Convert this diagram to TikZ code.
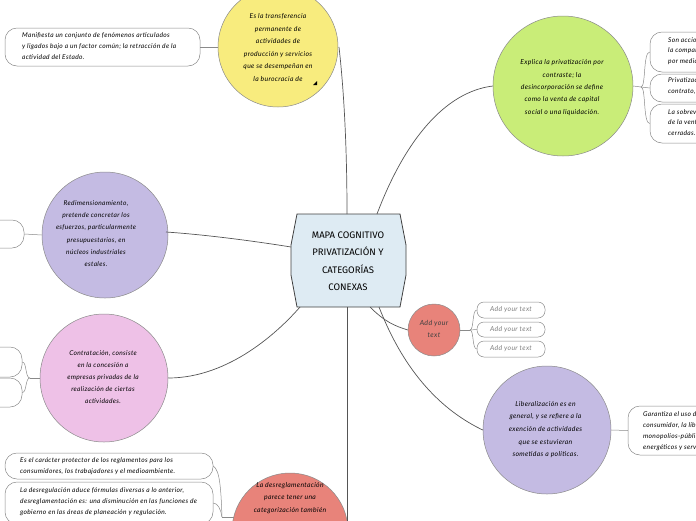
\documentclass[tikz,border=0pt]{standalone}
\usepackage{fontspec}
\setmainfont{Lato}
\newfontfamily\handfont[LetterSpace=5]{Lato}
\newfontfamily\hubfont{Fira Sans}
\definecolor{cyel}{HTML}{F8EC7E}
\definecolor{cgrn}{HTML}{C9ED78}
\definecolor{clav}{HTML}{C4BBE3}
\definecolor{cpnk}{HTML}{EEC1E7}
\definecolor{csal}{HTML}{E8837A}
\definecolor{chub}{HTML}{DEEBF3}
\definecolor{cline}{HTML}{555555}
\definecolor{cbord}{HTML}{8A8A8A}
\begin{document}
\begin{tikzpicture}[x=1pt,y=-1pt,
  conn/.style={draw=cline, line width=0.7pt},
  sconn/.style={draw=cbord, line width=0.5pt},
  bubble/.style={circle, draw=cbord, line width=0.5pt, inner sep=0pt},
  btxt/.style={align=center, inner sep=0pt, font=\handfont\fontsize{6.8}{12.4}\selectfont\itshape},
  tbox/.style={draw=cbord, line width=0.5pt, rounded corners=12pt, fill=white, inner sep=0pt},
  ltxt/.style={anchor=west, align=left, inner sep=0pt, font=\handfont\fontsize{6.6}{10.8}\selectfont\itshape}
]
\useasboundingbox (0,0) rectangle (696,520);

% hub
\draw[draw=black!75, line width=0.8pt, fill=chub]
  (297,214) -- (400,214) -- (406,245) -- (406,275) -- (400,307) -- (297,307) -- (291,275) -- (291,245) -- cycle;
\node[align=center, inner sep=0pt, font=\hubfont\fontsize{9.5}{17.5}\selectfont] (hub) at (348,261)
  {MAPA COGNITIVO\\PRIVATIZACIÓN Y\\CATEGORÍAS\\CONEXAS};
\coordinate (hT) at (347,214);
\coordinate (hTR) at (377,214);
\coordinate (hL) at (291,247);
\coordinate (hBL) at (300,307);
\coordinate (hB) at (347,307);
\coordinate (hBR1) at (370,307);
\coordinate (hBR2) at (379,307);

% yellow
\node[bubble, fill=cyel, minimum size=120pt] (Y) at (278,47) {};
\node[btxt, font=\handfont\fontsize{6.8}{12.6}\selectfont\itshape] (Yt) at (278,47.5)
  {Es la transferencia\\permanente de\\actividades de\\producción y servicios\\que se desempeñan en\\la burocracia de};
\fill[black] (313,85) -- (317,85) -- (317,81) -- cycle;
\node[tbox, minimum width=195pt, minimum height=38pt] (Yb) at (102.5,47) {};
\node[ltxt] (Ybt) at (22,46) {Manifiesta un conjunto de fenómenos articulados\\y ligados bajo a un factor común; la retracción de la\\actividad del Estado.};
\draw[sconn] (Yb.east) -- (Y.west);
\draw[conn] (339,47) .. controls (345,100) and (347,160) .. (hT);

% green
\node[bubble, fill=cgrn, minimum size=140pt] (G) at (563,86) {};
\node[btxt, font=\handfont\fontsize{6.8}{12.3}\selectfont\itshape] (Gt) at (562,87.5)
  {Explica la privatización por\\contraste; la\\desincorporación se define\\como la venta de capital\\social o una liquidación.};
\draw[conn] (hTR) .. controls (405,140) and (445,92) .. (G.west);
\node[tbox, minimum width=130pt, minimum height=40pt] (Gb1) at (715,52) {};
\node[tbox, minimum width=130pt, minimum height=28pt] (Gb2) at (715,88) {};
\node[tbox, minimum width=130pt, minimum height=39pt] (Gb3) at (715,123.5) {};
\node[ltxt] (Gb1t) at (668,51) {Son acciones de\\la compañía que\\por medio de la};
\node[ltxt] (Gb2t) at (668,86) {Privatización por\\contrato, en la};
\node[ltxt] (Gb3t) at (668,122.5) {La sobrevaluación\\de la venta de\\cerradas.};
\coordinate (Gj) at (641,87);
\draw[sconn] (G.east) -- (Gj);
\draw[sconn] (Gj) .. controls (646,87) and (643,52) .. (Gb1.west);
\draw[sconn] (Gj) -- (Gb2.west);
\draw[sconn] (Gj) .. controls (646,87) and (643,123.5) .. (Gb3.west);

% purple
\node[bubble, fill=clav, minimum size=126pt] (P) at (105,235) {};
\node[btxt, font=\handfont\fontsize{6.6}{12.2}\selectfont\itshape] (Pt) at (96,233.5)
  {Redimensionamiento,\\pretende concretar los\\esfuerzos, particularmente\\presupuestarios, en\\núcleos industriales\\estales.};
\node[tbox, minimum width=124pt, minimum height=28pt] (Pb) at (-38,234) {};
\draw[sconn] (Pb.east) -- (P.west);
\draw[conn] (166,232) .. controls (210,235) and (260,242) .. (hL);

% pink
\node[bubble, fill=cpnk, minimum size=128pt] (K) at (104,378) {};
\node[btxt, font=\handfont\fontsize{6.6}{12}\selectfont\itshape] (Kt) at (103,377)
  {Contratación, consiste\\en la concesión a\\empresas privadas de la\\realización de ciertas\\actividades.};
\node[tbox, minimum width=122pt, minimum height=30pt] (Kb1) at (-39,362) {};
\node[tbox, minimum width=122pt, minimum height=29pt] (Kb2) at (-39,392.5) {};
\coordinate (Kj) at (30,378);
\draw[sconn] (K.west) -- (Kj);
\draw[sconn] (Kj) .. controls (25,378) and (27,362) .. (Kb1.east);
\draw[sconn] (Kj) .. controls (25,378) and (27,392.5) .. (Kb2.east);
\draw[conn] (K.east) .. controls (230,378) and (280,330) .. (hBL);

% small salmon
\node[bubble, fill=csal, minimum size=52pt] (S) at (434,330) {};
\node[btxt, font=\handfont\fontsize{7}{12}\selectfont\itshape, text=black!75] (St) at (434,329) {Add your\\text};
\draw[conn] (hBR1) .. controls (385,322) and (395,326) .. (S.west);
\tikzset{abox/.style={draw=cbord, line width=0.5pt, rounded corners=7pt, fill=white, minimum width=68pt, font=\handfont\fontsize{6.8}{8}\selectfont\itshape, text=black!50, inner sep=0pt}}
\node[abox, minimum height=16pt] (A1) at (511,310) {Add your text};
\node[abox, minimum height=15pt] (A2) at (511,329.5) {Add your text};
\node[abox, minimum height=16pt] (A3) at (511,349) {Add your text};
\coordinate (Sj) at (470,330);
\draw[sconn] (S.east) -- (Sj);
\draw[sconn] (Sj) .. controls (474,330) and (472,310) .. (A1.west);
\draw[sconn] (Sj) -- (A2.west);
\draw[sconn] (Sj) .. controls (474,330) and (472,349) .. (A3.west);

% liberalization
\node[bubble, fill=clav, minimum size=128pt] (L) at (547,430) {};
\node[btxt, font=\handfont\fontsize{6.8}{12.7}\selectfont\itshape] (Lt) at (545.5,429.5)
  {Liberalización es en\\general, y se refiere a la\\exención de actividades\\que se estuvieran\\sometidas a políticas.};
\draw[conn] (hBR2) .. controls (392,340) and (420,400) .. (L.west);
\node[tbox, minimum width=132pt, minimum height=49pt] (Lb) at (694,430.5) {};
\node[ltxt] (Lbt) at (643,431) {Garantiza el uso del\\consumidor, la libertad\\monopolios-públicos\\energéticos y servicios};
\draw[sconn] (L.east) -- (Lb.west);

% bottom salmon
\node[bubble, fill=csal, minimum size=116pt] (R) at (290,531) {};
\node[btxt, anchor=north, font=\handfont\fontsize{6.8}{12.5}\selectfont\itshape] (Rt) at (290,482)
  {La desreglamentación\\parece tener una\\categorización también};
\draw[conn] (hB) -- (347,531) -- (R.east);
\node[tbox, minimum width=208pt, minimum height=26pt] (Rb1) at (109,466) {};
\node[tbox, minimum width=208pt, minimum height=42pt] (Rb2) at (109,503) {};
\node[ltxt] (Rb1t) at (20,466) {Es el carácter protector de los reglamentos para los\\consumidores, los trabajadores y el medioambiente.};
\node[ltxt] (Rb2t) at (20,501.5) {La desregulación aduce fórmulas diversas a lo anterior,\\desreglamentación es: una disminución en las funciones de\\gobierno en las áreas de planeación y regulación.};
\coordinate (Rj) at (222,517);
\draw[sconn] (234,517) -- (Rj);
\draw[sconn] (Rj) .. controls (221,490) and (220,470) .. (Rb1.east);
\draw[sconn] (Rj) .. controls (221,510) and (218,503) .. (Rb2.east);
\end{tikzpicture}
\end{document}
